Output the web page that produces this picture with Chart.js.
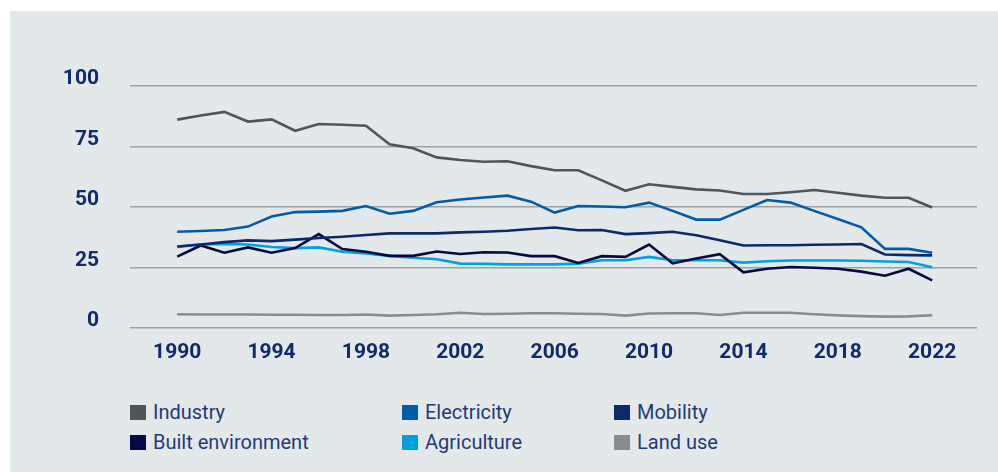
<!DOCTYPE html>
<html>
<head>
<meta charset="utf-8">
<script src="https://cdn.jsdelivr.net/npm/chart.js@4"></script>
<style>
  html, body { margin: 0; padding: 0; background: #fff; }
  body { width: 998px; height: 472px; position: relative; overflow: hidden; font-family: Roboto, "Noto Sans", sans-serif; }
  #panel { position: absolute; left: 10px; top: 11px; width: 988px; height: 461px; background: #e3e9ea; }
  #wrap { position: absolute; left: 0; top: 0; width: 998px; height: 380px; }
  .item { position: absolute; height: 22px; display: flex; align-items: center; color: #1f3a78; font-size: 20px; }
  .item span.sw { width: 16px; height: 15px; margin-right: 7px; display: inline-block; }
</style>
</head>
<body>
<div id="panel"></div>
<div id="wrap"><canvas id="grafico" width="998" height="380"></canvas></div>
<div id="legend"></div>
<script>
const years = [];
for (let y = 1990; y <= 2022; y++) years.push(y);

const xTicks = [1990, 1994, 1998, 2002, 2006, 2010, 2014, 2018, 2022];
const yTicks = [0, 25, 50, 75, 100];

const nombres = ["Industry", "Electricity", "Mobility", "Built environment", "Agriculture", "Land use"];
const colores = ["#4e565a", "#005ca8", "#0b2a6c", "#060a42", "#00a0e1", "#878c90"];

const industry = [86.1,87.8,89.3,85.3,86.2,81.5,84.3,84.0,83.6,75.9,74.3,70.5,69.4,68.7,68.9,66.9,65.2,65.2,61.0,56.7,59.4,58.3,57.3,56.8,55.4,55.4,56.1,57.0,55.9,54.7,53.8,53.8,49.8];
const electricity = [39.8,40.1,40.5,41.9,46.1,47.9,48.1,48.4,50.4,47.2,48.4,52.0,53.1,53.9,54.7,52.2,47.7,50.4,50.2,49.9,51.8,48.4,44.8,44.8,48.8,52.9,51.8,48.4,45.0,41.6,32.7,32.7,31.1];
const mobility = [33.7,34.5,35.5,36.2,35.9,36.5,37.2,37.7,38.4,39.1,39.1,39.1,39.5,39.8,40.2,40.9,41.5,40.4,40.5,38.8,39.2,39.8,38.3,36.3,34.1,34.2,34.2,34.4,34.5,34.7,30.4,30.1,30.0];
const builtEnv = [29.5,34.1,31.1,33.3,31.1,33.0,38.8,32.6,31.5,29.8,29.8,31.6,30.6,31.3,31.2,29.7,29.7,26.9,29.7,29.4,34.5,26.7,28.7,30.5,23.0,24.5,25.2,24.9,24.5,23.3,21.6,24.5,19.7];
const agriculture = [33.5,34.5,34.7,34.5,33.5,33.0,33.3,31.5,30.8,29.8,29.0,28.4,26.6,26.5,26.3,26.3,26.3,26.6,28.0,28.0,29.4,28.0,28.0,28.0,27.0,27.6,27.9,27.9,27.9,27.8,27.5,27.3,25.1];
const landUse = [5.7,5.6,5.6,5.6,5.5,5.5,5.4,5.4,5.6,5.1,5.4,5.7,6.3,5.8,5.9,6.1,6.1,5.9,5.8,5.1,6.0,6.1,6.1,5.4,6.3,6.3,6.3,5.7,5.2,4.9,4.7,4.8,5.3];

const series = [industry, electricity, mobility, builtEnv, agriculture, landUse];

const datasets = series.map((vals, i) => ({
  label: nombres[i],
  data: vals.map((v, j) => ({ x: years[j], y: v })),
  borderColor: colores[i],
  backgroundColor: colores[i],
  borderWidth: 2.6,
  pointRadius: 0,
  tension: 0,
  fill: false
}));

const tickFont = { family: "Roboto, 'Noto Sans', sans-serif", size: 21, weight: "bold" };

new Chart(document.getElementById('grafico').getContext('2d'), {
  type: 'line',
  data: { datasets: datasets },
  options: {
    responsive: false,
    animation: false,
    layout: { padding: { top: 86, right: 21, left: 0, bottom: 0 } },
    plugins: { legend: { display: false }, tooltip: { enabled: false } },
    scales: {
      x: {
        type: 'linear',
        min: 1988,
        max: 2023.9,
        afterBuildTicks: axis => { axis.ticks = xTicks.map(v => ({ value: v })); },
        afterFit: s => { s.height = 52; },
        grid: { display: false, drawTicks: false },
        border: { display: false },
        ticks: {
          color: '#0f2b6b',
          font: tickFont,
          padding: 12,
          maxRotation: 0,
          autoSkip: false,
          callback: v => String(v)
        }
      },
      y: {
        min: 0,
        max: 100,
        afterBuildTicks: axis => { axis.ticks = yTicks.map(v => ({ value: v })); },
        afterFit: s => { s.width = 130; },
        grid: { color: '#9ca1a4', lineWidth: 1.5, drawTicks: false },
        border: { display: false },
        ticks: {
          color: '#0f2b6b',
          font: tickFont,
          padding: 31,
          labelOffset: -7
        }
      }
    }
  }
});

// leyenda en HTML, tres columnas
const legendPos = [[130, 401], [402, 401], [614, 401], [130, 431], [402, 431], [614, 431]];
const legend = document.getElementById('legend');
nombres.forEach((n, i) => {
  const d = document.createElement('div');
  d.className = 'item';
  d.style.left = legendPos[i][0] + 'px';
  d.style.top = legendPos[i][1] + 'px';
  d.innerHTML = `<span class="sw" style="background:${colores[i]}"></span>${n}`;
  legend.appendChild(d);
});
</script>
</body>
</html>
